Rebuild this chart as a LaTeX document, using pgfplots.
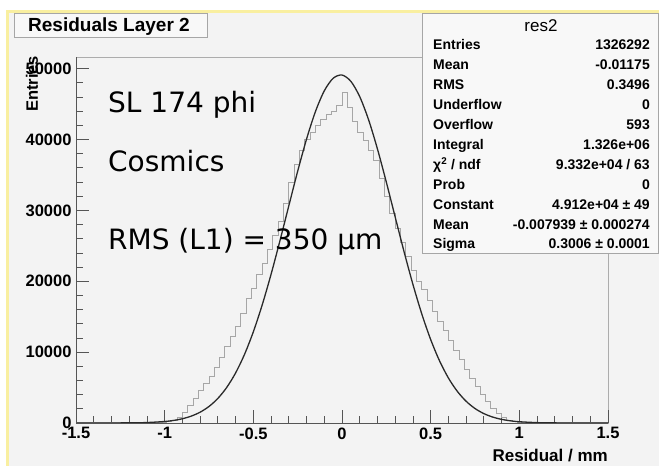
\documentclass[border=0pt]{standalone}
\usepackage{pgfplots}
\pgfplotsset{compat=1.18}
\usepackage{fontspec}
\setmainfont{Liberation Sans}
\newfontfamily\dejavu{DejaVu Sans}
\definecolor{bg}{HTML}{F3F3F3}
\definecolor{yel}{HTML}{F9EFA0}
\definecolor{histc}{HTML}{A6A6A6}
\definecolor{fitc}{HTML}{2A2A2A}
\definecolor{axc}{HTML}{555555}
\newcommand{\fs}[1]{\fontsize{#1}{#1}\selectfont}
\begin{document}
\begin{tikzpicture}
\useasboundingbox (0pt,0pt) rectangle (659pt,466pt);
\fill[white] (0pt,0pt) rectangle (659pt,466pt);
\fill[yel] (6pt,0pt) rectangle (659pt,456pt);
\fill[bg] (9pt,0pt) rectangle (659pt,453pt);
\draw[gray!65, line width=0.8pt] (76pt,43pt) rectangle (608pt,409pt);
\begin{axis}[
  at={(76pt,43pt)}, anchor=south west, scale only axis,
  width=532pt, height=366pt,
  xmin=-1.5, xmax=1.5, ymin=0, ymax=51650,
  axis lines=left, axis line style={-, draw=axc, line width=0.9pt},
  tick align=inside,
  scaled y ticks=false, scaled x ticks=false,
  xtick={-1.5,-1,-0.5,0,0.5,1,1.5},
  xticklabels={-1.5,-1,-0.5,0,0.5,1,1.5},
  ytick={0,10000,20000,30000,40000,50000},
  yticklabels={0,10000,20000,30000,40000,50000},
  minor x tick num=4, minor y tick num=4,
  major tick length=13pt, minor tick length=6.5pt,
  tick style={axc, line width=0.8pt},
  ticklabel style={font=\bfseries\fs{16.5}},
  yticklabel style={xshift=-1pt},
  xticklabel style={yshift=-1pt},
]
\addplot[const plot mark left, color=histc, line width=1.0pt] coordinates {
(-1.5,0) (-1.02,40) (-0.99,150) (-0.96,400) (-0.93,800) (-0.90,1500)
(-0.87,2500) (-0.84,3500) (-0.81,4600) (-0.78,5600) (-0.75,6600)
(-0.72,7900) (-0.69,9300) (-0.66,10800) (-0.63,12200) (-0.60,13600)
(-0.57,15500) (-0.54,17500) (-0.51,19000) (-0.48,21000) (-0.45,22500)
(-0.42,24500) (-0.39,26500) (-0.36,28500) (-0.33,31000) (-0.30,34000)
(-0.27,36500) (-0.24,38500) (-0.21,40000) (-0.18,41000) (-0.15,42000)
(-0.12,42800) (-0.09,43500) (-0.06,44000) (-0.03,44800) (0.00,46700)
(0.03,44500) (0.06,42500) (0.09,41000) (0.12,39800) (0.15,38500)
(0.18,37000) (0.21,34500) (0.24,32000) (0.27,29500) (0.30,27500)
(0.33,25500) (0.36,23500) (0.39,21500) (0.42,20000) (0.45,18800)
(0.48,17300) (0.51,15800) (0.54,14300) (0.57,13000) (0.60,11600)
(0.63,10300) (0.66,8900) (0.69,7600) (0.72,6300) (0.75,5100)
(0.78,4000) (0.81,3000) (0.84,2100) (0.87,1300) (0.90,750)
(0.93,350) (0.96,150) (0.99,60) (1.02,20) (1.05,0) (1.5,0)
};
\addplot[smooth, color=fitc, line width=1.3pt] coordinates {
(-1.5,0) (-1.2,19) (-1.1,67) (-1.0,212) (-0.95,362) (-0.9,602)
(-0.85,972) (-0.8,1527) (-0.75,2334) (-0.7,3471) (-0.65,5021)
(-0.6,7064) (-0.55,9667) (-0.5,12870) (-0.45,16665) (-0.4,20988)
(-0.35,25715) (-0.3,30646) (-0.25,35526) (-0.2,40057) (-0.15,43934)
(-0.1,46872) (-0.05,48643) (0,49103) (0.05,48214) (0.1,46050)
(0.15,42783) (0.2,38662) (0.25,33984) (0.3,29059) (0.35,24170)
(0.4,19554) (0.45,15387) (0.5,11778) (0.55,8771) (0.6,6352)
(0.65,4475) (0.7,3067) (0.75,2044) (0.8,1325) (0.85,836)
(0.9,513) (0.95,306) (1.0,178) (1.1,55) (1.2,15) (1.5,0)
};
\end{axis}
% axis titles
\node[rotate=90, font=\bfseries\fs{16.5}, inner sep=0pt] at (32pt,382pt) {Entries};
\node[anchor=base east, font=\bfseries\fs{17}, inner sep=0pt] at (608pt,4pt) {Residual / mm};
% big annotations
\node[anchor=base west, font=\dejavu\fs{28}, inner sep=0pt] at (108pt,353pt) {SL 174 phi};
\node[anchor=base west, font=\dejavu\fs{28}, inner sep=0pt] at (108pt,294pt) {Cosmics};
\node[anchor=base west, font=\dejavu\fs{28}, inner sep=0pt] at (108pt,216pt) {RMS (L1) = 350 μm};
% title box
\draw[gray!70, fill=white!40!bg, line width=0.8pt] (14pt,429pt) rectangle (207pt,453pt);
\node[anchor=base west, font=\bfseries\fs{19}, inner sep=0pt] at (28pt,434pt) {Residuals Layer 2};
% stats box
\draw[gray!70, fill=white!40!bg, line width=0.8pt] (422pt,213pt) rectangle (658pt,453pt);
\node[anchor=base, font=\fs{17}, inner sep=0pt] at (541pt,434pt) {res2};
\begin{scope}[every node/.style={font=\bfseries\fs{14}, inner sep=0pt}]
\node[anchor=base west] at (433pt,416pt) {Entries};   \node[anchor=base east] at (650pt,416pt) {1326292};
\node[anchor=base west] at (433pt,396.1pt) {Mean};    \node[anchor=base east] at (650pt,396.1pt) {-0.01175};
\node[anchor=base west] at (433pt,376.2pt) {RMS};     \node[anchor=base east] at (650pt,376.2pt) {0.3496};
\node[anchor=base west] at (433pt,356.3pt) {Underflow}; \node[anchor=base east] at (650pt,356.3pt) {0};
\node[anchor=base west] at (433pt,336.4pt) {Overflow}; \node[anchor=base east] at (650pt,336.4pt) {593};
\node[anchor=base west] at (433pt,316.5pt) {Integral}; \node[anchor=base east] at (650pt,316.5pt) {1.326e+06};
\node[anchor=base west] at (433pt,296.6pt) {χ\textsuperscript{2} / ndf}; \node[anchor=base east] at (650pt,296.6pt) {9.332e+04 / 63};
\node[anchor=base west] at (433pt,276.7pt) {Prob};    \node[anchor=base east] at (650pt,276.7pt) {0};
\node[anchor=base west] at (433pt,256.8pt) {Constant}; \node[anchor=base east] at (650pt,256.8pt) {4.912e+04 ± 49};
\node[anchor=base west] at (433pt,236.9pt) {Mean};    \node[anchor=base east] at (650pt,236.9pt) {-0.007939 ± 0.000274};
\node[anchor=base west] at (433pt,217pt) {Sigma};     \node[anchor=base east] at (650pt,217pt) {0.3006 ± 0.0001};
\end{scope}
\end{tikzpicture}
\end{document}
